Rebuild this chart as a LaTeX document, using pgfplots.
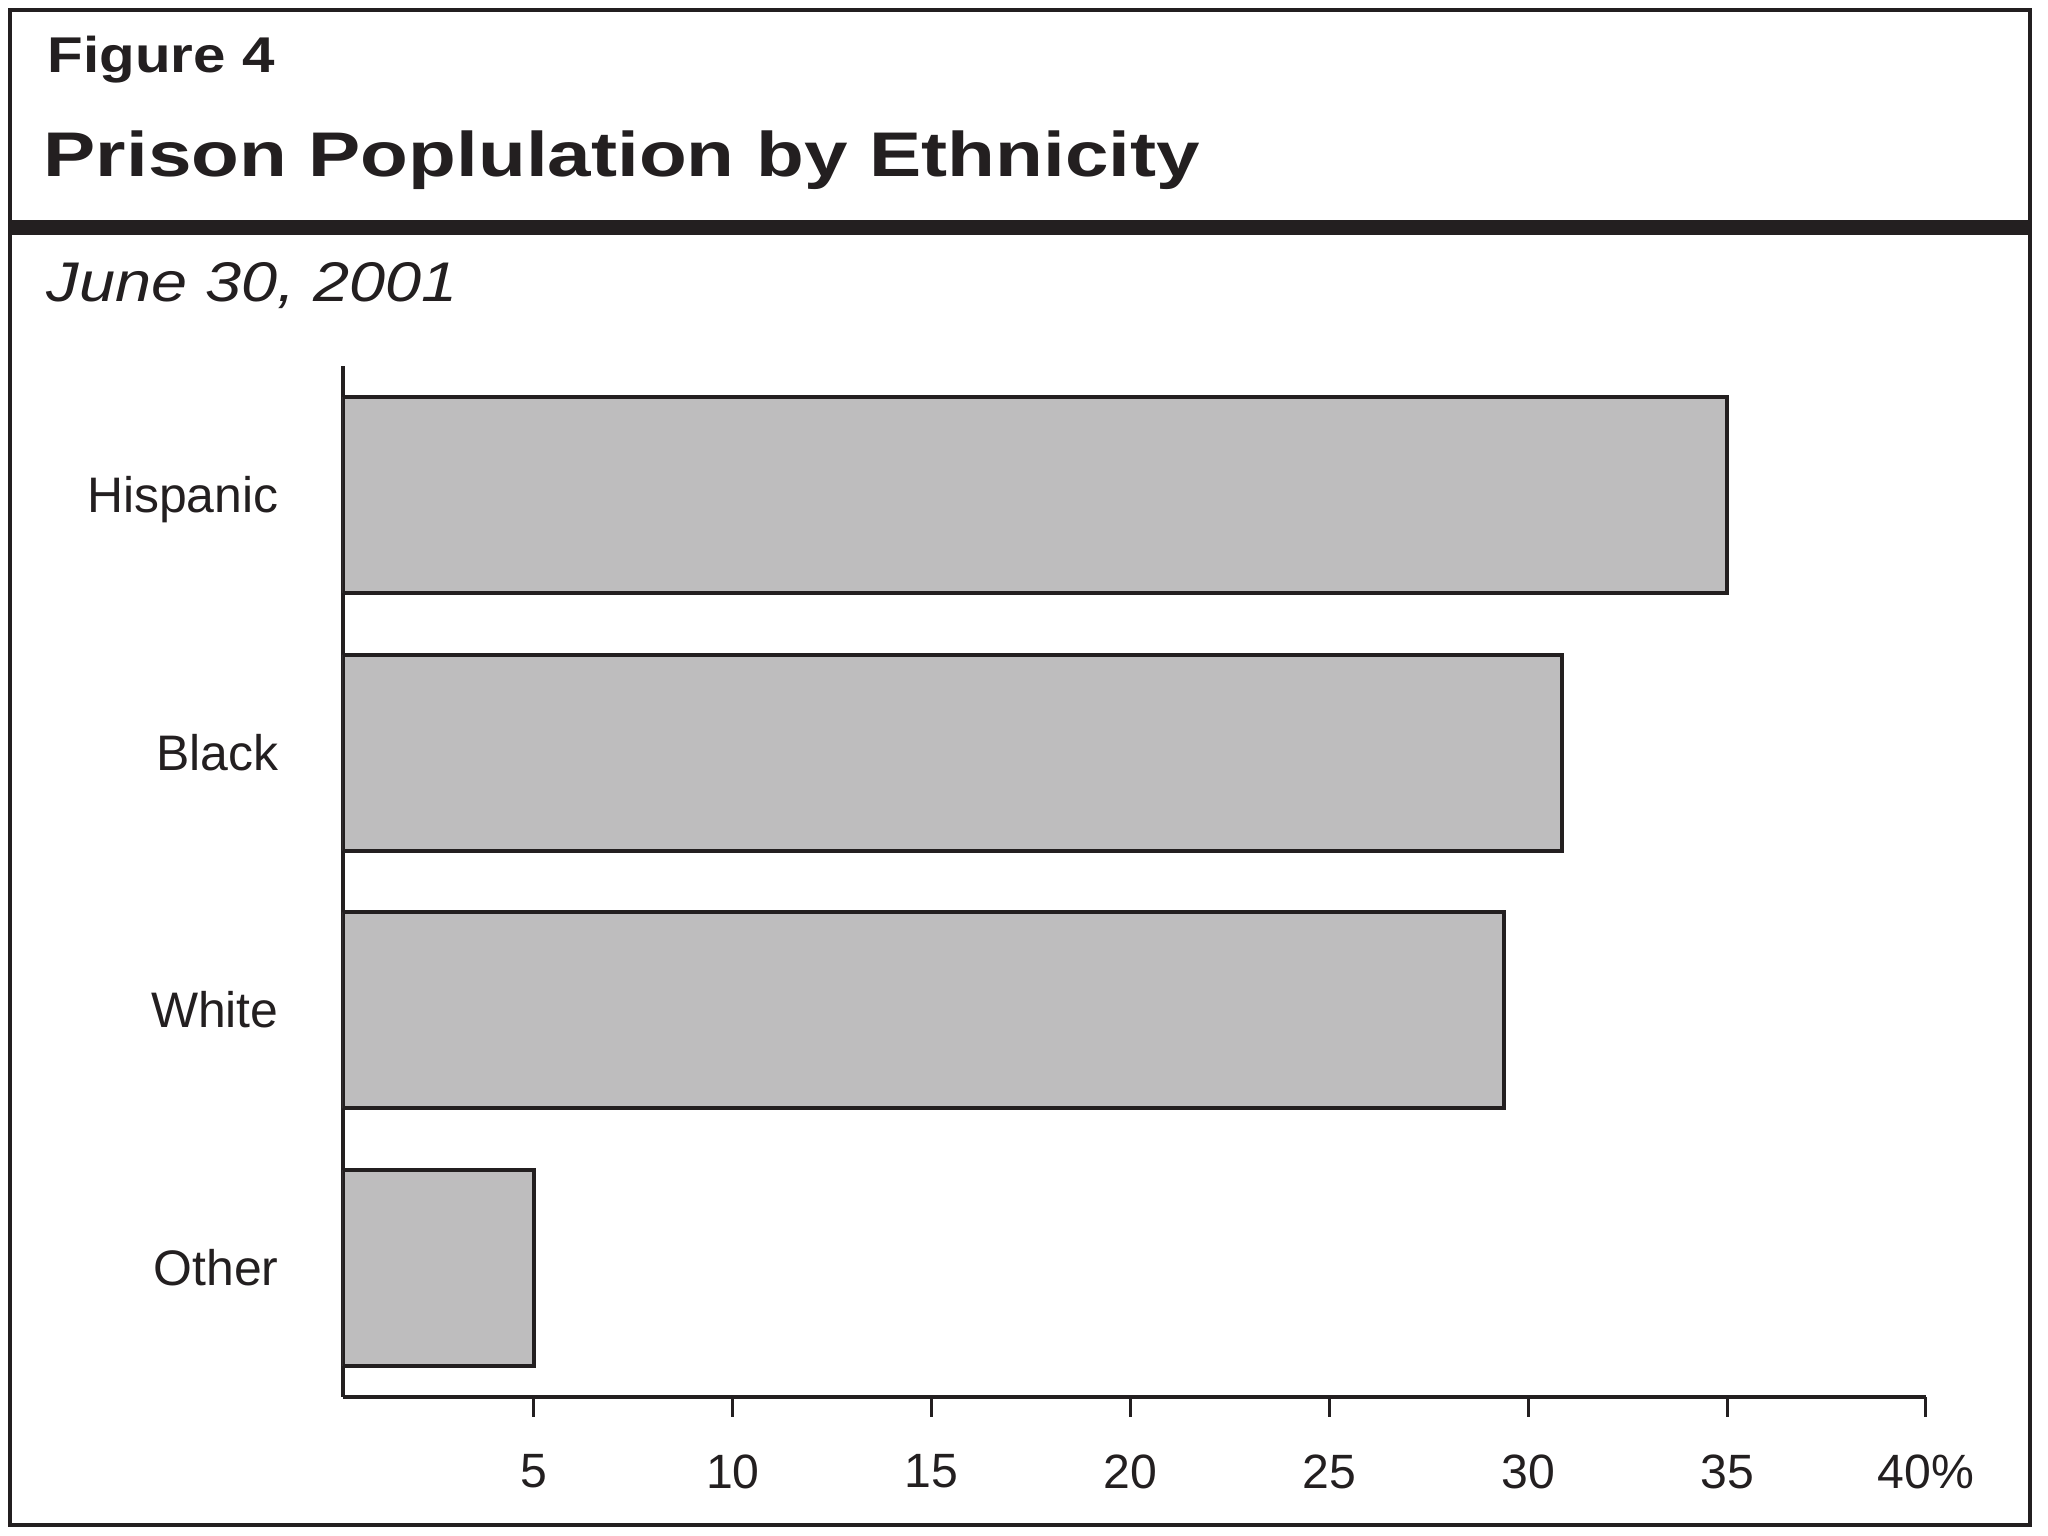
\documentclass[border=0pt]{standalone}
\usepackage{fontspec}
\setmainfont{Liberation Sans}
\newfontfamily\figfont[FakeStretch=1.16]{Liberation Sans}
\newfontfamily\titlefont[FakeStretch=1.24]{Liberation Sans}
\usepackage{pgfplots}
\pgfplotsset{compat=1.18}
\definecolor{ink}{HTML}{231F20}
\definecolor{barfill}{HTML}{BEBDBE}
\begin{document}
\begin{tikzpicture}
\path[fill=white] (0mm,0mm) rectangle (204.8mm,153.6mm);
\draw[ink, line width=0.4mm] (1.0mm,1.1mm) rectangle (203.0mm,152.6mm);
\fill[ink] (1.0mm,130.1mm) rectangle (203.0mm,131.6mm);
\node[anchor=base west, inner sep=0pt, text=ink, font=\figfont\bfseries\fontsize{14.3}{16}\selectfont] at (4.7mm,146.3mm) {Figure 4};
\node[anchor=base west, inner sep=0pt, text=ink, font=\titlefont\bfseries\fontsize{17.95}{20}\selectfont] at (4.3mm,135.9mm) {Prison Poplulation by Ethnicity};
\node[anchor=base west, inner sep=0pt, text=ink, font=\figfont\itshape\fontsize{15.9}{18}\selectfont] at (4.6mm,123.4mm) {June 30, 2001};
\begin{axis}[
  at={(34.3mm,13.9mm)}, anchor=south west,
  scale only axis, width=158.3mm, height=103.1mm,
  xmin=0.2, xmax=40, ymin=-0.5, ymax=3.5,
  axis x line*=bottom, axis y line*=left,
  axis line style={ink, line width=0.4mm, -},
  xbar, bar width=19.6mm,
  xtick={5,10,15,20,25,30,35,40},
  xticklabels={5,10,15,20,25,30,35,40\%},
  tick align=outside,
  x tick style={ink, line width=0.3mm},
  major tick length=2.0mm,
  xticklabel style={font=\fontsize{13.7}{15}\selectfont, text=ink, anchor=north, yshift=-2.5mm},
  ytick={0,1,2,3},
  yticklabels={Other,White,Black,Hispanic},
  y tick style={draw=none},
  yticklabel style={font=\fontsize{14.2}{16}\selectfont, text=ink, anchor=base east, xshift=-3.2mm, yshift=-1.75mm},
  axis background/.style={fill=white},
]
\addplot[draw=ink, fill=barfill, line width=0.4mm] coordinates {(5.0,0) (29.4,1) (30.85,2) (35.0,3)};
\end{axis}
\end{tikzpicture}
\end{document}
